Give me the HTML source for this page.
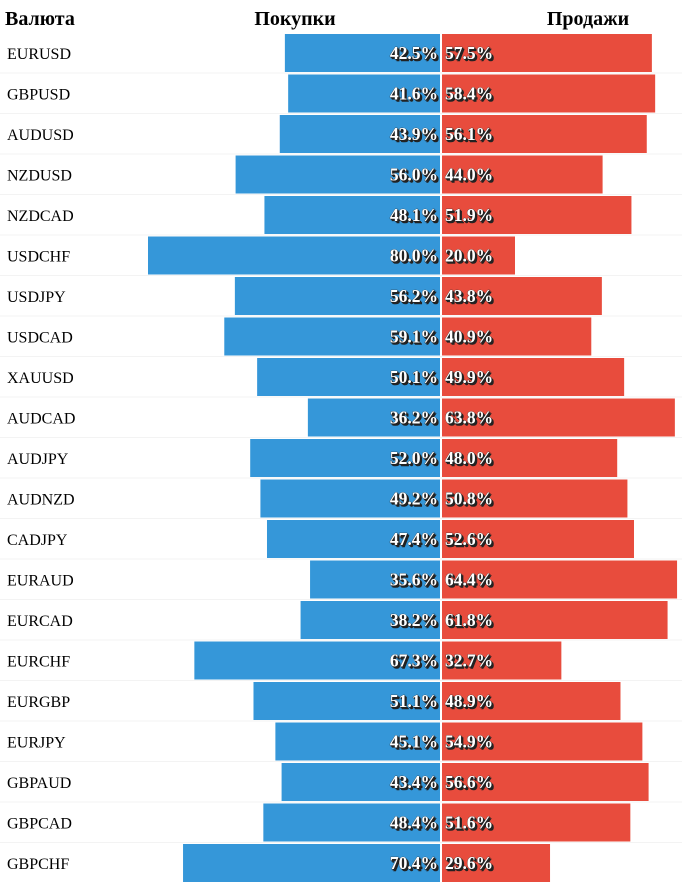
<!DOCTYPE html>
<html><head><meta charset="utf-8"><style>
body{margin:0;background:#fff;width:682px;height:882px;overflow:hidden;font-family:"Liberation Serif","DejaVu Serif",serif}
svg{display:block}
.v{font-weight:bold;font-size:17.5px;fill:#fff;paint-order:stroke;stroke:#333;stroke-width:0.6px}
</style></head><body>
<svg id="c" width="682" height="882">
<text x="5" y="25" font-size="20" font-weight="bold">Валюта</text>
<text x="295" y="25" font-size="20" font-weight="bold" text-anchor="middle">Покупки</text>
<text x="588" y="25" font-size="20" font-weight="bold" text-anchor="middle">Продажи</text>
</svg>
<script>
const pairs=["EURUSD","GBPUSD","AUDUSD","NZDUSD","NZDCAD","USDCHF","USDJPY","USDCAD","XAUUSD","AUDCAD","AUDJPY","AUDNZD","CADJPY","EURAUD","EURCAD","EURCHF","EURGBP","EURJPY","GBPAUD","GBPCAD","GBPCHF"];
const buys=[42.5,41.6,43.9,56.0,48.1,80.0,56.2,59.1,50.1,36.2,52.0,49.2,47.4,35.6,38.2,67.3,51.1,45.1,43.4,48.4,70.4];
const sells=[57.5,58.4,56.1,44.0,51.9,20.0,43.8,40.9,49.9,63.8,48.0,50.8,52.6,64.4,61.8,32.7,48.9,54.9,56.6,51.6,29.6];
const svg=document.getElementById('c');const NS='http://www.w3.org/2000/svg';
const cx=441,k=3.65,top0=34,pitch=40.5,bh=38;
function el(t,a,txt){const e=document.createElementNS(NS,t);for(const n in a)e.setAttribute(n,a[n]);if(txt!=null)e.textContent=txt;svg.appendChild(e);return e;}
pairs.forEach((p,i)=>{
 const y=top0+i*pitch;
 if(i>0){const l=el('line',{x1:0,x2:682,y1:y-1.5,y2:y-1.5,stroke:'#f3f3f3'});
 
 }
 const lb=el('text',{x:7,y:y+25,'font-size':16},p);
 
 
 const wb=buys[i]*k;
 const b=el('rect',{x:cx-1-wb,y:y,width:wb,height:bh,fill:'#3597d9'});
 
 
 const ws=sells[i]*k;
 const s=el('rect',{x:cx+1,y:y,width:ws,height:bh,fill:'#e84c3d'});
 
 
 const bt=el('text',{x:cx-3,y:y+25,'text-anchor':'end',class:'v',style:'text-shadow:1px 1px 0 #222,2px 2px 0 #222'},buys[i].toFixed(1)+'%');
 
 
 const st=el('text',{x:cx+4,y:y+25,class:'v',style:'text-shadow:1px 1px 0 #222,2px 2px 0 #222'},sells[i].toFixed(1)+'%');
 
 
});
</script>
</body></html>
